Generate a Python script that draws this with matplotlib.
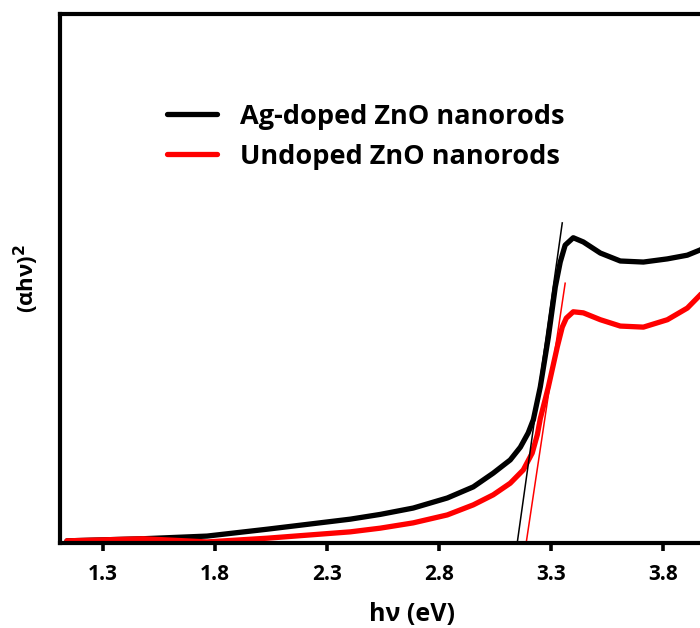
import matplotlib.pyplot as plt
import numpy as np

plt.rcParams['font.family'] = ['Open Sans', 'DejaVu Sans']
plt.rcParams['font.weight'] = 'bold'

# photon energy (eV) and (alpha h nu)^2 (arb. units)
ag_energy = [1.139, 1.479, 1.764, 2.032, 2.403, 2.537, 2.684, 2.836, 2.952, 3.041,
             3.117, 3.162, 3.197, 3.220, 3.251, 3.287, 3.318, 3.340, 3.362, 3.398,
             3.443, 3.519, 3.608, 3.711, 3.818, 3.907, 3.965, 4.05]
ag_abs = [0.004, 0.008, 0.013, 0.026, 0.045, 0.054, 0.066, 0.085, 0.106, 0.132,
          0.157, 0.181, 0.208, 0.233, 0.295, 0.389, 0.484, 0.531, 0.563, 0.577,
          0.569, 0.548, 0.533, 0.531, 0.537, 0.544, 0.554, 0.575]

un_energy = [1.139, 1.479, 1.764, 2.032, 2.403, 2.537, 2.684, 2.836, 2.952, 3.041,
             3.117, 3.175, 3.215, 3.238, 3.251, 3.287, 3.327, 3.349, 3.367, 3.398,
             3.443, 3.519, 3.608, 3.711, 3.818, 3.907, 3.965, 4.05]
un_abs = [0.004, 0.008, 0.002, 0.009, 0.021, 0.028, 0.038, 0.053, 0.072, 0.091,
          0.113, 0.138, 0.170, 0.205, 0.235, 0.295, 0.371, 0.408, 0.425, 0.437,
          0.435, 0.422, 0.410, 0.408, 0.422, 0.444, 0.469, 0.51]

# Tauc fit lines (band gap extrapolation)
ag_fit_x = [3.148, 3.349]
ag_fit_y = [0.0, 0.605]
un_fit_x = [3.188, 3.362]
un_fit_y = [0.0, 0.491]

xticks = [1.3, 1.8, 2.3, 2.8, 3.3, 3.8]

fig = plt.figure(figsize=(7, 6.28), dpi=100)
ax = fig.add_axes([0.0857, 0.1354, 1.006, 0.8424])

ax.plot(ag_energy, ag_abs, color='black', lw=3.8, label='Ag-doped ZnO nanorods',
        solid_capstyle='round', solid_joinstyle='round')
ax.plot(un_energy, un_abs, color='#ff0000', lw=3.8, label='Undoped ZnO nanorods',
        solid_capstyle='round', solid_joinstyle='round')
ax.plot(ag_fit_x, ag_fit_y, color='black', lw=1.1)
ax.plot(un_fit_x, un_fit_y, color='#ff0000', lw=1.1)

ax.set_xlim(1.108, 4.25)
ax.set_ylim(0, 1)
ax.set_xticks(xticks, [str(t) for t in xticks])
ax.set_yticks([])
ax.tick_params(axis='x', direction='out', length=5.5, width=2.6, pad=10, labelsize=15)

for s in ax.spines.values():
    s.set_linewidth(3)

ax.set_xlabel('hν (eV)', fontsize=18, fontweight='bold', labelpad=12)
ax.set_ylabel('(αhν)$^\\mathbf{2}$', fontsize=16, fontweight='bold', labelpad=14)

ax.legend(loc='upper left', bbox_to_anchor=(0.152, 0.83), frameon=False,
          fontsize=19.5, handlelength=1.85, handletextpad=0.85, borderpad=0,
          borderaxespad=0, labelspacing=0.52)

fig.savefig('out.png', dpi=100)
